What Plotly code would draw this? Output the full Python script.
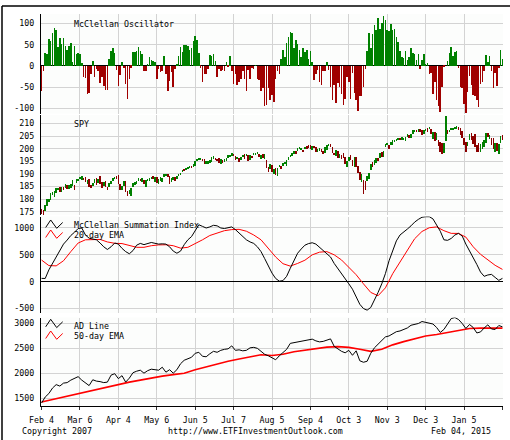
import pandas as pd
import plotly.graph_objects as go
from plotly.subplots import make_subplots

# trading days on the chart (Feb 4 2014 .. Feb 4 2015)
holidays = ["2014-02-17", "2014-04-18", "2014-05-26", "2014-07-04", "2014-09-01",
            "2014-11-27", "2014-12-25", "2015-01-01", "2015-01-19"]
days = [d.strftime("%Y-%m-%d") for d in
        pd.bdate_range("2014-02-04", "2015-02-04", freq="C", holidays=holidays)]

tick_dates = ["2014-02-04", "2014-03-06", "2014-04-04", "2014-05-06", "2014-06-05",
              "2014-07-07", "2014-08-05", "2014-09-04", "2014-10-03", "2014-11-03",
              "2014-12-03", "2015-01-05", "2015-02-04"]
tick_labels = ["Feb 4", "Mar 6", "Apr 4", "May 6", "Jun 5", "Jul 7", "Aug 5",
               "Sep 4", "Oct 3", "Nov 3", "Dec 3", "Jan 5", ""]

# McClellan oscillator, one value per trading day
osc = [-58, -11, 30, 28, 63, 58, 77, 88, 84, 44,
       66, 51, 65, 47, 38, 46, 54, 10, 47, 28,
       30, 28, 7, -27, -28, -67, -63, -20, 12, -25,
       -8, -11, -40, -25, -47, -56, -56, 16, 35, 42,
       30, -10, -47, -22, 10, -5, -42, -78, -30, -4,
       33, 33, 35, 44, 35, 27, -13, -13, 5, 22,
       14, 12, 10, -32, -8, -15, -12, 24, -20, -58,
       -35, -14, -49, -7, 3, 24, 45, 32, 50, 50,
       47, 37, 43, 58, 70, 60, 31, -4, -37, -18,
       -18, -8, 26, 23, 28, 12, -26, -8, -13, -10,
       -13, 9, -2, 23, -12, -42, -19, -46, -37, -30,
       -13, -30, -58, -10, -30, -5, -8,
       2, -30, -34, -58, -53, -94, -92, -52, -81, -68, -86, -30, -13, -20,
       16, 37, 22, 54, 69, 80, 77, 41, 61, 51, 37, 22, 42, 32, 37, 16, 36, 10,
       -33, -20, -9, -39, -44, -11, -12,
       8,
       -9, -50, -81, -45, -88, -41, -50, -66, -93, -77, -25, -37, -77, -17, -63,
       -81, -107, -70, -70, -50, -8,
       34, 77, 41, 76, 96, 84, 112, 86, 100, 117, 108, 84, 83, 98, 84, 86, 69, 55,
       35, 22, 18, 35, 14, 22, 43, 30, 27, 14, 28,
       -8,
       14, 27, 4, 6,
       -19, -17, -66, -39, -80, -95, -109, -50,
       -3, 0,
       12, 31, 45, 23, 32, 34,
       -6, -50, -53, -89, -111, -61, -23, -44, -68, -70, -80, -97, -42, -38, -13,
       26, 8, 23,
       -11, -53, -17, -48, -5,
       37, 16]

# SPY daily bars
spy_close = [175.4, 175.0, 177.5, 179.7, 180.0, 182.0, 182.1, 183.0, 184.0, 184.2,
             182.9, 184.1, 183.9, 185.0, 184.9, 185.0, 185.9, 186.3, 184.9, 187.6,
             187.8, 188.2, 188.3, 188.1, 187.2, 187.3, 185.2, 184.7, 186.3, 187.7,
             186.6, 187.8, 186.2, 185.4, 186.3, 184.8, 184.5, 185.3, 187.0, 188.3,
             188.6, 188.4, 186.2, 184.3, 185.1, 187.1, 183.2, 181.5, 183.2, 184.2,
             186.1, 186.4, 187.0, 188.0, 187.6, 187.8, 186.3, 186.9, 187.9, 188.3,
             188.3, 188.1, 188.4, 186.6, 187.7, 187.7, 188.0, 189.8, 189.9, 189.1,
             187.4, 188.1, 188.7, 187.5, 189.1, 189.5, 190.4, 191.5, 191.4, 192.4,
             192.7, 193.2, 193.1, 193.5, 194.8, 195.7, 196.0, 196.1, 195.5, 194.2,
             194.6, 194.7, 195.2, 196.7, 197.0, 195.9, 195.8, 194.6, 195.6, 195.2,
             195.6, 195.7, 197.0, 197.0, 198.2, 197.5, 195.8, 196.7, 196.0, 196.3,
             197.2, 197.0, 197.7, 195.4, 197.4, 196.9, 197.8, 198.2, 198.3, 197.3,
             197.4, 196.5, 196.6, 192.5, 192.0, 193.6, 191.0, 191.0, 190.1, 192.1,
             192.9, 192.6, 193.9, 194.8, 194.8, 196.7, 197.4, 198.4, 198.9, 198.6,
             199.6, 199.9, 199.9, 199.6, 200.7, 200.6, 200.5, 200.2, 201.1, 200.5,
             199.2, 200.0, 200.2, 198.9, 198.8, 200.3, 200.5, 201.6, 200.7, 198.6,
             197.6, 199.2, 196.3, 197.9, 197.5, 196.9, 194.4, 194.4, 196.5, 196.3,
             193.3, 196.6, 192.7, 190.5, 187.4, 187.7, 186.4, 186.3, 188.5, 190.3,
             194.1, 192.7, 194.9, 196.4, 196.2, 198.4, 197.7, 198.9, 201.7, 201.8,
             201.1, 202.3, 203.2, 203.3, 203.9, 204.2, 204.0, 204.2, 204.2, 204.4,
             205.6, 205.2, 205.6, 206.7, 207.3, 207.1, 207.6, 207.2, 205.8, 207.1,
             207.9, 207.7, 208.0, 206.5, 206.5, 203.2, 204.2, 200.9, 199.5, 197.9,
             201.8, 206.8, 206.5, 207.5, 207.8, 207.8, 208.4, 208.7, 207.6, 205.5,
             205.4, 201.7, 199.8, 202.3, 205.9, 204.3, 202.6, 202.1, 200.9, 199.0,
             201.6, 202.1, 203.1, 206.1, 205.0, 205.5, 202.7, 200.1, 202.0, 199.4,
             201.9, 204.8, 203.9]
spy_high = [176.2, 175.6, 177.5, 179.9, 180.1, 182.4, 182.8, 183.2, 184.4, 184.5,
            185.0, 184.9, 185.0, 186.2, 185.6, 185.6, 186.0, 187.4, 185.6, 187.8,
            188.1, 188.8, 189.2, 188.4, 188.6, 187.4, 187.9, 185.8, 186.6, 187.9,
            188.2, 188.0, 189.0, 186.9, 187.0, 187.1, 185.0, 186.3, 187.3, 188.4,
            188.9, 189.1, 189.7, 186.2, 185.4, 187.2, 187.3, 183.2, 183.6, 184.4,
            186.3, 186.9, 187.1, 188.4, 188.1, 188.3, 187.4, 187.7, 188.1, 188.4,
            188.8, 189.0, 188.6, 188.6, 188.0, 188.8, 188.2, 189.9, 190.1, 189.8,
            189.1, 188.2, 188.8, 188.8, 189.2, 190.0, 190.5, 191.6, 191.8, 192.5,
            192.8, 193.3, 193.2, 193.8, 195.2, 195.8, 196.3, 196.2, 195.9, 195.8,
            195.0, 195.1, 195.5, 196.8, 197.2, 196.3, 196.0, 196.4, 195.8, 195.6,
            195.8, 196.2, 197.5, 197.2, 198.3, 197.9, 197.2, 196.8, 196.3, 196.6,
            197.6, 197.8, 198.1, 197.7, 197.5, 197.2, 198.4, 198.4, 198.7, 197.8,
            197.7, 197.9, 197.8, 195.6, 192.8, 194.0, 193.4, 192.0, 192.2, 192.2,
            193.6, 193.0, 194.2, 194.9, 195.6, 196.8, 197.5, 198.5, 199.2, 199.2,
            200.2, 200.6, 200.3, 199.7, 200.8, 200.9, 201.4, 201.6, 201.2, 201.0,
            200.6, 200.1, 200.3, 200.0, 199.3, 200.6, 201.6, 201.8, 201.9, 200.6,
            198.5, 199.4, 199.0, 198.1, 197.6, 198.2, 196.9, 195.0, 196.7, 197.4,
            195.6, 196.8, 196.7, 193.2, 190.6, 189.9, 187.5, 187.3, 189.3, 190.5,
            194.1, 194.9, 195.7, 196.4, 196.4, 198.4, 198.8, 199.1, 201.8, 202.1,
            201.6, 202.6, 203.3, 203.6, 204.0, 204.3, 204.1, 204.8, 204.4, 204.5,
            205.8, 205.6, 205.8, 207.3, 207.4, 207.5, 207.7, 208.0, 207.4, 207.4,
            208.0, 208.2, 208.5, 208.0, 206.5, 206.5, 206.1, 203.6, 202.7, 202.4,
            202.3, 213.0, 207.3, 207.5, 208.4, 208.2, 208.8, 208.9, 208.6, 208.2,
            206.9, 204.4, 202.7, 202.7, 206.0, 206.2, 205.1, 205.9, 201.5, 202.2,
            201.8, 202.7, 203.5, 206.3, 206.1, 205.6, 204.1, 204.3, 202.3, 202.2,
            202.0, 204.9, 205.4]
spy_low = [174.1, 173.8, 175.2, 177.4, 178.8, 179.7, 181.7, 180.8, 182.6, 183.6,
           182.8, 182.9, 183.6, 184.3, 184.2, 184.2, 184.5, 185.2, 183.8, 186.6,
           187.4, 187.9, 187.7, 187.4, 186.9, 186.2, 184.8, 184.4, 185.1, 186.4,
           185.8, 186.3, 186.0, 184.6, 185.4, 184.7, 183.6, 184.8, 186.2, 187.2,
           188.1, 187.9, 185.9, 183.8, 183.6, 185.2, 182.9, 181.3, 181.9, 181.4,
           184.9, 185.8, 186.1, 187.1, 187.4, 186.7, 185.9, 184.8, 187.1, 187.1,
           187.9, 187.8, 186.9, 186.5, 186.2, 187.1, 186.9, 188.6, 189.4, 188.8,
           186.1, 186.9, 187.5, 187.1, 187.9, 189.1, 189.5, 190.9, 191.2, 191.8,
           191.8, 192.3, 192.5, 192.6, 193.2, 195.0, 195.6, 195.6, 195.1, 194.0,
           193.9, 194.0, 194.3, 194.8, 196.1, 195.8, 195.3, 194.3, 194.1, 194.2,
           194.8, 195.3, 196.2, 196.8, 197.3, 197.0, 195.5, 195.9, 194.6, 195.4,
           196.7, 196.0, 197.3, 195.2, 195.6, 196.2, 197.5, 197.8, 197.9, 196.9,
           196.1, 196.3, 195.9, 192.4, 190.8, 191.9, 190.6, 190.1, 189.7, 189.3,
           192.7, 192.0, 193.1, 193.8, 193.1, 195.6, 196.9, 197.1, 198.1, 198.0,
           199.2, 199.8, 199.6, 198.7, 199.8, 199.8, 200.3, 199.9, 199.5, 200.2,
           198.9, 198.9, 199.1, 198.6, 198.0, 198.4, 199.7, 200.9, 200.5, 198.2,
           197.5, 197.3, 196.2, 196.5, 195.8, 196.5, 193.9, 192.6, 195.2, 195.7,
           193.3, 192.7, 192.6, 190.4, 187.4, 187.0, 181.9, 183.5, 187.1, 187.8,
           191.6, 192.7, 193.6, 194.3, 195.1, 196.5, 196.7, 196.6, 200.7, 201.3,
           199.9, 201.4, 201.6, 202.8, 203.1, 203.7, 203.3, 203.5, 203.7, 203.2,
           204.6, 204.3, 204.2, 206.0, 206.7, 206.9, 207.0, 206.8, 205.5, 205.9,
           207.0, 206.5, 207.7, 205.8, 203.8, 203.0, 203.5, 200.9, 198.7, 197.9,
           198.3, 203.0, 205.9, 206.5, 207.3, 207.7, 207.9, 208.0, 207.5, 205.4,
           204.2, 201.4, 198.9, 200.9, 203.6, 203.4, 201.9, 200.8, 198.6, 198.9,
           198.6, 199.9, 200.8, 202.2, 204.8, 203.9, 201.4, 200.0, 198.7, 199.3,
           197.9, 202.3, 203.5]

# McClellan summation index (read every 2nd day) and its 20-day EMA (every 4th day)
summation = [62, 60, 220, 340, 470, 590, 700, 775, 860, 920,
             990, 1000, 870, 810, 790, 780, 720, 650, 600,
             650, 720, 700, 620, 560, 520, 580, 680, 713, 690,
             710, 730, 715, 700, 705, 700, 650, 570, 530, 570,
             690, 780, 840, 950, 1060, 1030, 1000, 1020, 1050, 1040,
             1000, 990, 1010, 1020, 970, 900, 840, 780, 740, 713,
             650, 560, 430, 280, 160, 60, 10, 20, 100, 250,
             400, 530, 610, 680, 710, 725, 700, 640, 570, 520,
             460, 340, 250, 140, 60, -40, -140, -280, -420, -500,
             -530, -480, -350, -200, -40, 150, 390, 590, 760, 870,
             920, 980, 1040, 1110, 1160, 1200, 1210, 1210, 1170, 1060,
             940, 780, 770, 806, 870, 900, 850, 700, 580, 460,
             320, 180, 100, 125, 136, 80, 25, 62]
summation_ema = [403, 300, 295, 390, 560, 720, 780, 787, 787, 740,
                 715, 710, 680, 640, 640, 670, 685, 688, 670, 625,
                 640, 705, 780, 860, 910, 950, 970, 975, 940, 870,
                 780, 630, 460, 335, 290, 340, 400, 500, 550, 560,
                 500, 405, 270, 130, -40, -200, -262, -115, 150, 370,
                 600, 800, 935, 1005, 1020, 950, 900, 899, 830, 650,
                 510, 405, 305, 229]

# Advance/decline line (every 2nd day) and its 50-day EMA (every 6th day)
ad_line = [1400, 1520, 1590, 1700, 1770, 1740, 1800, 1810, 1860, 1900,
           1930, 1860, 1800, 1750, 1867, 1840, 1830, 1810, 1820, 1960,
           1990, 1890, 1950, 1820, 1900, 2010, 2040, 2060, 2000, 2050,
           2080, 2070, 2060, 2120, 2020, 2070, 2000, 2070, 2190, 2260,
           2290, 2320, 2400, 2420, 2340, 2330, 2390, 2440, 2420, 2460,
           2480, 2490, 2550, 2460, 2470, 2450, 2460, 2510, 2520,
           2500, 2440, 2380, 2350, 2310, 2270, 2350, 2410, 2480, 2600,
           2615, 2630, 2640, 2667, 2680, 2685, 2650, 2630, 2640, 2667,
           2690, 2540, 2490, 2440, 2410, 2460, 2360, 2450, 2250, 2220,
           2240, 2400, 2510, 2580, 2660, 2730, 2750, 2800, 2835, 2850,
           2880, 2910, 2965, 2980, 3000, 3040, 3025, 3010, 2990, 2920,
           2820, 2880, 2990, 3100, 3120, 3080, 3000, 2900, 2980, 2920,
           2810, 2830, 2910, 2973, 2890, 2880, 2960, 2933]
ad_ema = [1420, 1470, 1530, 1580, 1620, 1680, 1720, 1780, 1820, 1860,
          1905, 1940, 1970, 2000, 2070, 2130, 2185, 2240, 2285, 2330,
          2370, 2355, 2380, 2430, 2460, 2490, 2525, 2535, 2520, 2480,
          2440, 2480, 2570, 2635, 2690, 2750, 2780, 2820, 2870, 2900,
          2907, 2907, 2907]

osc_ticks = [-100, -50, 0, 50, 100]
osc_ticktext = ["-100", "-50", "0", "50", "100"]
spy_ticks = [175, 180, 185, 190, 195, 200, 205, 210]
sum_ticks = [-500, 0, 500, 1000]
sum_ticktext = ["-500", "0", "500", "1000"]
ad_ticks = [1500, 2000, 2500, 3000]

GREEN = "#008000"
RED = "#a00000"
FONT = "DejaVu Sans Mono"
W, H = 510, 440
L, R, T, B = 41, 7, 14, 34


def px(x):
    return (x - L) / (W - L - R)


def py(y):
    return (H - B - y) / (H - T - B)


fig = make_subplots(rows=4, cols=1, shared_xaxes=True, vertical_spacing=0.01)

fig.add_trace(go.Bar(x=days, y=osc, width=0.3,
                     marker=dict(color=[GREEN if v >= 0 else RED for v in osc], line_width=0)),
              row=1, col=1)

spy_colors = [GREEN if i > 0 and c >= spy_close[i - 1] else "#8b0000"
              for i, c in enumerate(spy_close)]
fig.add_trace(go.Bar(x=days, base=spy_low, y=[h - l for h, l in zip(spy_high, spy_low)],
                     width=0.3, marker=dict(color=spy_colors, line_width=0)),
              row=2, col=1)

fig.add_trace(go.Scatter(x=days[::4], y=summation_ema, mode="lines",
                         line=dict(color="#ff0000", width=1)), row=3, col=1)
fig.add_trace(go.Scatter(x=days[::2], y=summation, mode="lines",
                         line=dict(color="black", width=1)), row=3, col=1)

fig.add_trace(go.Scatter(x=days[::6], y=ad_ema, mode="lines",
                         line=dict(color="#ff0000", width=1.6)), row=4, col=1)
fig.add_trace(go.Scatter(x=days[::2], y=ad_line, mode="lines",
                         line=dict(color="black", width=1)), row=4, col=1)

axis_font = dict(family=FONT, size=8.3, color="black")
fig.update_xaxes(type="category", categoryorder="array", categoryarray=days,
                 range=[-0.3, len(days) - 0.7], tickmode="array",
                 tickvals=tick_dates, ticktext=tick_labels,
                 showgrid=True, gridcolor="#d3d3d3", gridwidth=1,
                 zeroline=False, tickfont=axis_font)
fig.update_xaxes(showline=True, linecolor="black", linewidth=1, ticks="outside",
                 ticklen=3, tickcolor="#333333", ticklabelstandoff=3, row=4, col=1)
fig.update_yaxes(showgrid=True, gridcolor="#d3d3d3", gridwidth=1, showline=True,
                 linecolor="black", linewidth=1, tickfont=axis_font,
                 ticklabelstandoff=4, zeroline=False)

fig.update_layout(
    yaxis=dict(domain=[py(113.5), 1.0], range=[-112, 122], tickvals=osc_ticks,
               ticktext=osc_ticktext, zeroline=True, zerolinecolor="black", zerolinewidth=1),
    yaxis2=dict(domain=[py(215), py(115)], range=[173.7, 213.4], tickvals=spy_ticks),
    yaxis3=dict(domain=[py(313), py(216.5)], range=[-583, 1214], tickvals=sum_ticks,
                ticktext=sum_ticktext, zeroline=True, zerolinecolor="black", zerolinewidth=1),
    yaxis4=dict(domain=[0, py(317.5)], range=[1339, 3121], tickvals=ad_ticks,
                tickformat="d"),
)


def zigzag(x0, y0):
    pts = [(0, 7.5), (5, 0), (11, 8.3), (17, 2.5)]
    return "M " + " L ".join(f"{px(x0 + dx):.5f},{py(y0 + dy):.5f}" for dx, dy in pts)


shapes = [
    dict(type="path", path=zigzag(45.7, 220), line=dict(color="black", width=1)),
    dict(type="path", path=zigzag(45.7, 230), line=dict(color="#ff0000", width=1)),
    dict(type="path", path=zigzag(45.7, 319.3), line=dict(color="black", width=1)),
    dict(type="path", path=zigzag(45.7, 331), line=dict(color="#ff0000", width=1)),
    # outer frame (top and left)
    dict(type="line", x0=px(2), x1=px(W), y0=py(6), y1=py(6), line=dict(color="black", width=1.5)),
    dict(type="line", x0=px(2), x1=px(2), y0=py(6), y1=py(H), line=dict(color="black", width=1.5)),
]
for s in shapes:
    s.update(xref="paper", yref="paper")

text_font = dict(family=FONT, size=8.3, color="black")
notes = [
    ("McClellan Oscillator", 71.7, 24, "left"),
    ("SPY", 71.7, 124.5, "left"),
    ("McClellan Summation Index", 71.7, 225, "left"),
    ("20-day EMA", 71.7, 235, "left"),
    ("AD Line", 71.7, 326, "left"),
    ("50-day EMA", 71.7, 336, "left"),
    ("Copyright 2007", 20, 430.5, "left"),
    ("http://www.ETFInvestmentOutlook.com", 255.5, 430.5, "center"),
    ("Feb 04, 2015", 492.5, 430.5, "right"),
]
annotations = [dict(text=t, x=px(x), y=py(y), xref="paper", yref="paper",
                    xanchor=a, yanchor="middle", showarrow=False, font=text_font)
               for t, x, y, a in notes]

fig.update_layout(
    width=W, height=H,
    margin=dict(l=L, r=R, t=T, b=B),
    paper_bgcolor="white", plot_bgcolor="#fcfdfc",
    showlegend=False, barmode="overlay", bargap=0,
    shapes=shapes, annotations=annotations,
    font=dict(family=FONT, size=8.3, color="black"),
)

# page body has a default 8px margin; drop it so the figure sits at the window corner
fig.write_html("out.html", config={"displayModeBar": False},
               post_script="document.body.style.margin='0px';")
